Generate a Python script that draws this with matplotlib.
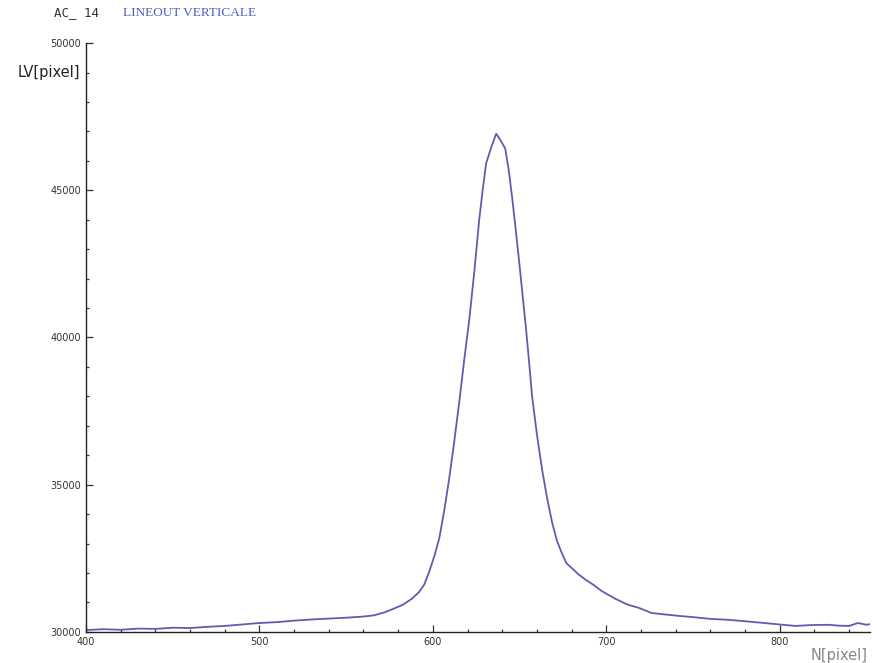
import numpy as np
import matplotlib.pyplot as plt
from matplotlib.ticker import MultipleLocator

# lineout values
n_pix = [400, 410, 420, 430, 440, 450, 460, 470, 480, 490, 500, 510, 520, 530,
         540, 550, 560, 566, 572, 578, 583, 588, 592, 595, 598, 601, 603.7,
         606.5, 609.4, 612.3, 615.2, 618, 621, 624, 626.7, 628.7, 630.7, 633.6,
         636.5, 639, 641.7, 643.7, 645.7, 647.7, 649.7, 651.7, 653.7, 655.5,
         657.2, 660, 663, 666, 668.8, 671.5, 674.5, 677, 680.2, 684, 688.3, 692,
         697.5, 705, 712, 719, 726, 734, 742, 750, 760, 770, 780, 791, 800, 809,
         818, 828, 834, 840, 845, 850, 852]
lv_pix = [30060, 30090, 30070, 30110, 30100, 30140, 30130, 30170, 30200, 30250,
          30300, 30330, 30380, 30420, 30450, 30480, 30520, 30560, 30660, 30800,
          30930, 31130, 31350, 31600, 32060, 32600, 33180, 34100, 35200, 36450,
          37800, 39200, 40610, 42300, 43990, 45000, 45910, 46450, 46920, 46700,
          46420, 45700, 44760, 43700, 42600, 41450, 40300, 39150, 38000, 36700,
          35500, 34500, 33700, 33100, 32650, 32330, 32160, 31950, 31760, 31620,
          31380, 31130, 30930, 30810, 30640, 30590, 30540, 30500, 30440, 30410,
          30360, 30300, 30250, 30200, 30230, 30240, 30210, 30200, 30300, 30240,
          30260]

fig = plt.figure(figsize=(8.77, 6.63), dpi=100)
ax = fig.add_axes([0.098, 0.047, 0.894, 0.888])

ax.plot(n_pix, lv_pix, color='#5e5eae', lw=1.3)

ax.set_xlim(400, 852)
ax.set_ylim(30000, 50000)
ax.xaxis.set_major_locator(MultipleLocator(100))
ax.xaxis.set_minor_locator(MultipleLocator(20))
ax.yaxis.set_major_locator(MultipleLocator(5000))
ax.yaxis.set_minor_locator(MultipleLocator(1000))
ax.tick_params(which='both', direction='in', labelsize=7, colors='#333333', width=0.9)
ax.tick_params(which='major', length=5)
ax.tick_params(which='minor', length=2.5)
ax.tick_params(axis='x', pad=4)

for s in ['top', 'right']:
    ax.spines[s].set_visible(False)
for s in ['left', 'bottom']:
    ax.spines[s].set_linewidth(1.0)
    ax.spines[s].set_color('#222222')

fig.text(0.062, 0.981, 'AC_ 14', family='DejaVu Sans Mono', fontsize=9,
         color='#333333', va='center')
fig.text(0.140, 0.981, 'LINEOUT VERTICALE', family='Liberation Serif',
         fontsize=9.5, color='#4b5cc4', va='center')
fig.text(0.020, 0.890, 'LV[pixel]', family='DejaVu Sans', fontsize=10.5,
         color='#222222', va='center')
fig.text(0.924, 0.012, 'N[pixel]', family='DejaVu Sans', fontsize=10.5,
         color='#888888', va='center')

fig.savefig('out.png', dpi=100)
